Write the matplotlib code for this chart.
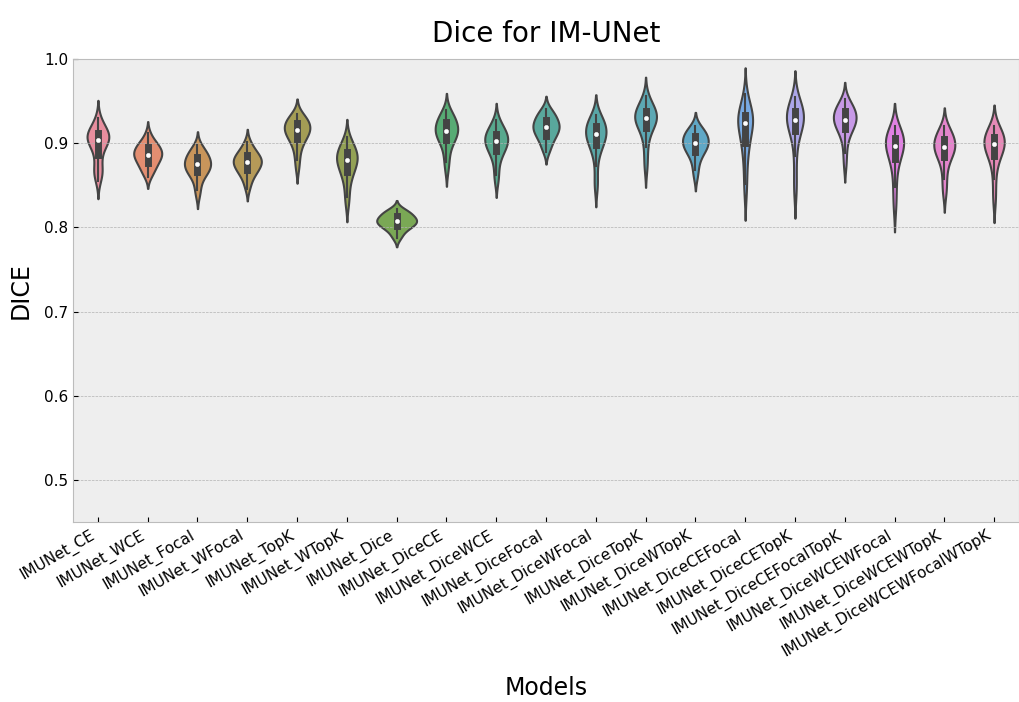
import numpy as np
import pandas as pd
import matplotlib
matplotlib.use('Agg')
from matplotlib import pyplot as plt
from matplotlib.colors import to_rgb
import seaborn as sns

models = ['IMUNet_CE', 'IMUNet_WCE', 'IMUNet_Focal', 'IMUNet_WFocal', 'IMUNet_TopK',
          'IMUNet_WTopK', 'IMUNet_Dice', 'IMUNet_DiceCE', 'IMUNet_DiceWCE',
          'IMUNet_DiceFocal', 'IMUNet_DiceWFocal', 'IMUNet_DiceTopK', 'IMUNet_DiceWTopK',
          'IMUNet_DiceCEFocal', 'IMUNet_DiceCETopK', 'IMUNet_DiceCEFocalTopK',
          'IMUNet_DiceWCEWFocal', 'IMUNet_DiceWCEWTopK', 'IMUNet_DiceWCEWFocalWTopK']

# per-case dice scores for each model
ce = [0.930, 0.925, 0.921, 0.918, 0.916, 0.914, 0.913, 0.912, 0.910, 0.909, 0.908, 0.907, 0.906,
      0.905, 0.904, 0.903, 0.902, 0.900, 0.898, 0.895, 0.890, 0.886, 0.880, 0.872, 0.868, 0.866,
      0.864, 0.862, 0.855]
wce = [0.912, 0.906, 0.902, 0.900, 0.898, 0.897, 0.896, 0.894, 0.892, 0.890, 0.889, 0.888, 0.887,
       0.886, 0.885, 0.884, 0.882, 0.880, 0.878, 0.876, 0.875, 0.873, 0.870, 0.867, 0.864, 0.860]
focal = [0.898, 0.894, 0.891, 0.889, 0.887, 0.886, 0.884, 0.882, 0.880, 0.878, 0.877, 0.876, 0.875,
         0.874, 0.872, 0.870, 0.868, 0.867, 0.866, 0.864, 0.861, 0.858, 0.852, 0.845, 0.838]
wfocal = [0.902, 0.897, 0.893, 0.890, 0.888, 0.887, 0.885, 0.883, 0.881, 0.880, 0.879, 0.878,
          0.877, 0.876, 0.874, 0.872, 0.870, 0.868, 0.867, 0.865, 0.862, 0.858, 0.853, 0.846]
topk = [0.935, 0.932, 0.930, 0.928, 0.927, 0.926, 0.924, 0.922, 0.920, 0.918, 0.917, 0.916, 0.915,
        0.914, 0.912, 0.910, 0.908, 0.905, 0.903, 0.900, 0.895, 0.888, 0.880, 0.870]
wtopk = [0.907, 0.902, 0.898, 0.895, 0.893, 0.891, 0.889, 0.887, 0.885, 0.883, 0.882, 0.881,
         0.879, 0.877, 0.875, 0.872, 0.869, 0.867, 0.864, 0.860, 0.854, 0.846, 0.836, 0.828]
dice = [0.822, 0.820, 0.818, 0.817, 0.816, 0.814, 0.812, 0.811, 0.810, 0.809, 0.808, 0.807, 0.806,
        0.805, 0.804, 0.802, 0.801, 0.800, 0.798, 0.795, 0.791, 0.787]
dice_ce = [0.940, 0.936, 0.932, 0.930, 0.928, 0.927, 0.925, 0.922, 0.920, 0.918, 0.916, 0.915,
           0.914, 0.913, 0.911, 0.909, 0.906, 0.904, 0.902, 0.899, 0.893, 0.885, 0.878, 0.868]
dice_wce = [0.928, 0.923, 0.919, 0.916, 0.914, 0.913, 0.911, 0.909, 0.907, 0.905, 0.904, 0.903,
            0.902, 0.900, 0.898, 0.896, 0.893, 0.891, 0.889, 0.886, 0.880, 0.872, 0.862, 0.855]
dice_focal = [0.941, 0.938, 0.935, 0.933, 0.931, 0.929, 0.927, 0.925, 0.923, 0.921, 0.920, 0.919,
              0.918, 0.916, 0.914, 0.912, 0.910, 0.908, 0.906, 0.903, 0.899, 0.894, 0.890]
dice_wfocal = [0.934, 0.931, 0.928, 0.926, 0.924, 0.922, 0.920, 0.918, 0.916, 0.914, 0.913, 0.912,
               0.910, 0.908, 0.905, 0.903, 0.901, 0.899, 0.896, 0.892, 0.885, 0.873, 0.855, 0.848]
dice_topk = [0.956, 0.950, 0.946, 0.943, 0.941, 0.939, 0.937, 0.935, 0.933, 0.932, 0.931, 0.930,
             0.928, 0.926, 0.924, 0.922, 0.920, 0.917, 0.912, 0.905, 0.895, 0.882, 0.870]
dice_wtopk = [0.920, 0.917, 0.915, 0.913, 0.912, 0.910, 0.908, 0.906, 0.904, 0.902, 0.901, 0.900,
              0.899, 0.897, 0.895, 0.893, 0.891, 0.889, 0.886, 0.882, 0.876, 0.868, 0.860]
dice_ce_focal = [0.958, 0.950, 0.945, 0.940, 0.937, 0.935, 0.933, 0.931, 0.929, 0.927, 0.926,
                 0.925, 0.924, 0.921, 0.918, 0.913, 0.908, 0.903, 0.900, 0.895, 0.888, 0.878,
                 0.866, 0.852, 0.840]
dice_ce_topk = [0.955, 0.950, 0.946, 0.943, 0.941, 0.940, 0.938, 0.936, 0.934, 0.932, 0.930,
                0.929, 0.928, 0.926, 0.924, 0.921, 0.919, 0.917, 0.914, 0.908, 0.898, 0.885,
                0.868, 0.850, 0.842]
dice_ce_focal_topk = [0.952, 0.948, 0.945, 0.942, 0.940, 0.939, 0.937, 0.935, 0.933, 0.931,
                      0.929, 0.928, 0.927, 0.925, 0.923, 0.921, 0.918, 0.916, 0.913, 0.908,
                      0.900, 0.888, 0.874]
dice_wce_wfocal = [0.920, 0.917, 0.915, 0.912, 0.910, 0.908, 0.906, 0.904, 0.902, 0.900, 0.899,
                   0.898, 0.896, 0.894, 0.891, 0.888, 0.885, 0.882, 0.878, 0.870, 0.860, 0.848,
                   0.835, 0.822]
dice_wce_wtopk = [0.920, 0.916, 0.913, 0.911, 0.909, 0.907, 0.905, 0.903, 0.900, 0.898, 0.897,
                  0.896, 0.895, 0.893, 0.891, 0.889, 0.887, 0.884, 0.881, 0.876, 0.868, 0.858,
                  0.848, 0.840]
dice_wce_wfocal_wtopk = [0.921, 0.918, 0.915, 0.913, 0.911, 0.909, 0.907, 0.905, 0.903, 0.901,
                         0.900, 0.899, 0.898, 0.896, 0.894, 0.891, 0.888, 0.886, 0.883, 0.878,
                         0.870, 0.858, 0.843, 0.830]

scores = [ce, wce, focal, wfocal, topk, wtopk, dice, dice_ce, dice_wce, dice_focal, dice_wfocal,
          dice_topk, dice_wtopk, dice_ce_focal, dice_ce_topk, dice_ce_focal_topk,
          dice_wce_wfocal, dice_wce_wtopk, dice_wce_wfocal_wtopk]

rows = []
for name, vals in zip(models, scores):
    for v in vals:
        rows.append((name, v))
df = pd.DataFrame(rows, columns=['Model', 'DICE'])

plt.style.use('bmh')
# husl, desaturated and lightened a touch toward the axes background
bg = np.array(to_rgb('#eeeeee'))
colors = [tuple(0.88 * np.array(c) + 0.12 * bg)
          for c in sns.color_palette('husl', len(models), desat=0.75)]

fig = plt.figure(figsize=(10.2, 7.02), dpi=100)
ax = fig.add_axes([0.0716, 0.256, 0.9274, 0.66])

sns.violinplot(data=df, x='Model', y='DICE', hue='Model', palette=colors, legend=False,
               order=models, hue_order=models, saturation=1, common_norm=True,
               linewidth=1.5, linecolor='#444444',
               inner_kws=dict(box_width=5, whis_width=1.5, marker='o'), ax=ax)

# smaller white median dots
for ln in ax.lines:
    if ln.get_marker() == 'o':
        ln.set_markersize(3)
        ln.set_markeredgewidth(0.4)
        ln.set_markerfacecolor('white')
        ln.set_markeredgecolor('white')

ax.set_ylim(0.45, 1.0)
ax.set_xlim(-0.5, len(models) - 0.5)
ax.xaxis.grid(False)
ax.yaxis.grid(True, linestyle='--', linewidth=0.5, color='#b2b2b2')
ax.set_title('Dice for IM-UNet', fontsize=20, pad=12)
ax.set_xlabel('Models', fontsize=17, labelpad=11)
ax.set_ylabel('DICE', fontsize=17, labelpad=8)
ax.tick_params(axis='both', labelsize=11)
plt.setp(ax.get_xticklabels(), rotation=30, ha='right')

fig.savefig('out.png', dpi=100)
